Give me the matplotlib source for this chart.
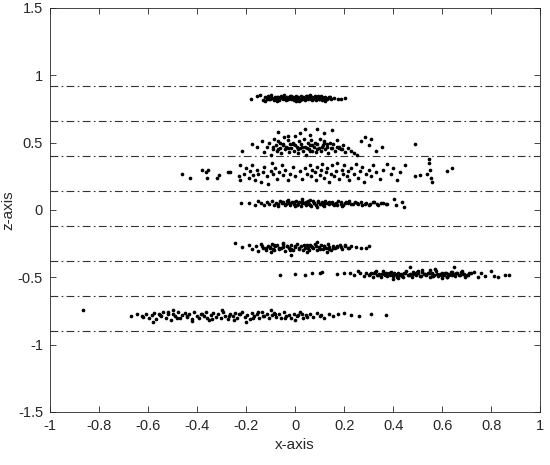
import matplotlib
matplotlib.use("Agg")
import matplotlib.pyplot as plt

plt.rcParams['font.family'] = ['Liberation Sans', 'DejaVu Sans']
plt.rcParams['axes.unicode_minus'] = False

# dash-dot separator levels
levels = [0.92, 0.66, 0.40, 0.14, -0.12, -0.38, -0.64, -0.90]

x_ticks = [-1, -0.8, -0.6, -0.4, -0.2, 0, 0.2, 0.4, 0.6, 0.8, 1]
x_tick_labels = ['-1', '-0.8', '-0.6', '-0.4', '-0.2', '0', '0.2', '0.4', '0.6', '0.8', '1']
y_ticks = [-1.5, -1, -0.5, 0, 0.5, 1, 1.5]
y_tick_labels = ['-1.5', '-1', '-0.5', '0', '0.5', '1', '1.5']

# band 1 (z ~ 0.83)
b1_x = [-0.18, -0.155, -0.142, -0.131, -0.124, -0.116, -0.109, -0.103, -0.095, -0.088,
        -0.083, -0.076, -0.069, -0.064, -0.057, -0.051, -0.046, -0.039, -0.033, -0.028,
        -0.021, -0.016, -0.010, -0.004, 0.002, 0.007, 0.013, 0.019, 0.024, 0.030,
        0.036, 0.041, 0.047, 0.052, 0.058, 0.064, 0.069, 0.075, 0.081, 0.086,
        0.092, 0.098, 0.104, 0.110, 0.117, 0.124, 0.131, 0.139, 0.147, 0.158,
        0.176, 0.188, 0.205, -0.098, -0.072,
        -0.045, -0.015, 0.016, 0.044, 0.071, 0.095, 0.121, -0.121, 0.062, 0.002,
        -0.113, -0.1, -0.087, -0.074, -0.061, -0.048, -0.035, -0.022, -0.009, 0.005,
        0.018, 0.031, 0.044, 0.057, 0.07, 0.083, 0.096, 0.109, 0.122, 0.135,
        -0.08, -0.054, -0.027, 0.0, 0.027, 0.054, 0.08, 0.107, -0.106, 0.142]
b1_y = [0.825, 0.845, 0.852, 0.818, 0.838, 0.826, 0.845, 0.822, 0.834, 0.816,
        0.842, 0.828, 0.836, 0.819, 0.847, 0.825, 0.833, 0.815, 0.840, 0.827,
        0.848, 0.821, 0.835, 0.817, 0.843, 0.829, 0.838, 0.818, 0.846, 0.824,
        0.832, 0.816, 0.844, 0.826, 0.837, 0.820, 0.841, 0.823, 0.834, 0.817,
        0.839, 0.825, 0.843, 0.819, 0.830, 0.836, 0.822, 0.840, 0.827, 0.831,
        0.826, 0.823, 0.829, 0.851, 0.811,
        0.851, 0.846, 0.812, 0.849, 0.813, 0.848, 0.811, 0.812, 0.850, 0.810,
        0.831, 0.838, 0.824, 0.840, 0.828, 0.836, 0.822, 0.841, 0.827, 0.834,
        0.823, 0.839, 0.829, 0.843, 0.825, 0.835, 0.821, 0.837, 0.828, 0.833,
        0.821, 0.842, 0.826, 0.838, 0.820, 0.831, 0.844, 0.826, 0.820, 0.838]

# band 2 (z ~ 0.48)
b2_x = [-0.215, -0.175, -0.155, -0.135, -0.125, -0.115, -0.105, -0.098, -0.092, -0.085,
        -0.078, -0.072, -0.068, -0.062, -0.057, -0.05, -0.046, -0.04, -0.035, -0.03,
        -0.025, -0.02, -0.015, -0.01, -0.004, 0.0, 0.006, 0.011, 0.016, 0.021,
        0.026, 0.031, 0.036, 0.041, 0.046, 0.051, 0.056, 0.061, 0.066, 0.071,
        0.076, 0.081, 0.086, 0.091, 0.096, 0.101, 0.106, 0.112, 0.118, 0.124,
        0.13, 0.136, 0.142, 0.148, 0.155, 0.162, 0.17, 0.178, 0.186, 0.195,
        0.205, 0.215, 0.228, 0.24, 0.252, 0.27, 0.285, 0.3, 0.31, 0.33,
        0.355, 0.49, -0.07, 0.02, 0.09, 0.15, 0.06, -0.03, 0.12, 0.04,
        -0.09, -0.07, -0.05, -0.03, -0.01, 0.01, 0.03, 0.05, 0.07, 0.09,
        0.11, 0.13, 0.15, 0.17, 0.19, -0.06, 0.0, 0.06, 0.12, 0.18]
b2_y = [0.44, 0.49, 0.47, 0.51, 0.43, 0.47, 0.5, 0.41, 0.45, 0.53,
        0.48, 0.44, 0.51, 0.46, 0.42, 0.49, 0.54, 0.45, 0.47, 0.52,
        0.43, 0.49, 0.46, 0.5, 0.44, 0.55, 0.47, 0.42, 0.51, 0.46,
        0.49, 0.44, 0.53, 0.47, 0.41, 0.5, 0.45, 0.48, 0.52, 0.44,
        0.47, 0.5, 0.43, 0.49, 0.46, 0.53, 0.44, 0.48, 0.51, 0.45,
        0.47, 0.42, 0.5, 0.46, 0.49, 0.44, 0.52, 0.47, 0.45, 0.48,
        0.43, 0.46, 0.44, 0.42, 0.41, 0.51, 0.54, 0.48, 0.53, 0.44,
        0.47, 0.49, 0.58, 0.57, 0.6, 0.59, 0.56, 0.55, 0.57, 0.6,
        0.47, 0.45, 0.48, 0.46, 0.49, 0.45, 0.47, 0.46, 0.48, 0.45,
        0.47, 0.49, 0.46, 0.47, 0.45, 0.5, 0.48, 0.44, 0.5, 0.46]

# band 3 (z ~ 0.28)
b3_x = [-0.46, -0.43, -0.38, -0.365, -0.355, -0.36, -0.32, -0.31, -0.275, -0.265,
        -0.225, -0.23, -0.225, -0.21, -0.2, -0.19, -0.185, -0.175, -0.17, -0.165,
        -0.155, -0.15, -0.14, -0.13, -0.125, -0.115, -0.11, -0.1, -0.095, -0.09,
        -0.08, -0.075, -0.065, -0.055, -0.05, -0.04, -0.03, -0.02, -0.01, 0.0,
        0.02, 0.03, 0.04, 0.05, 0.06, 0.065, 0.07, 0.08, 0.085, 0.09,
        0.1, 0.105, 0.11, 0.12, 0.125, 0.13, 0.14, 0.145, 0.15, 0.16,
        0.165, 0.17, 0.18, 0.19, 0.195, 0.2, 0.21, 0.215, 0.22, 0.23,
        0.24, 0.25, 0.255, 0.265, 0.275, 0.28, 0.29, 0.3, 0.31, 0.32,
        0.33, 0.345, 0.36, 0.375, 0.39, 0.4, 0.415, 0.43, 0.45, 0.49,
        0.51, 0.545, 0.545, 0.55, 0.54, 0.555, 0.56, 0.62, 0.64]
b3_y = [0.27, 0.24, 0.3, 0.28, 0.3, 0.24, 0.24, 0.26, 0.28, 0.285,
        0.33, 0.25, 0.22, 0.27, 0.31, 0.24, 0.29, 0.33, 0.26, 0.22,
        0.3, 0.27, 0.21, 0.28, 0.32, 0.25, 0.19, 0.29, 0.35, 0.27,
        0.31, 0.23, 0.28, 0.33, 0.26, 0.3, 0.22, 0.27, 0.32, 0.25,
        0.29, 0.23, 0.31, 0.27, 0.33, 0.25, 0.3, 0.28, 0.22, 0.32,
        0.26, 0.3, 0.34, 0.24, 0.28, 0.31, 0.21, 0.27, 0.33, 0.25,
        0.29, 0.35, 0.23, 0.3, 0.27, 0.33, 0.25, 0.29, 0.22, 0.31,
        0.27, 0.34, 0.24, 0.29, 0.32, 0.21, 0.27, 0.3, 0.25, 0.33,
        0.28, 0.23, 0.3, 0.34, 0.27, 0.31, 0.22, 0.28, 0.33, 0.25,
        0.26, 0.38, 0.35, 0.3, 0.27, 0.24, 0.21, 0.29, 0.31]

# band 4 (z ~ 0.05)
b4_x = [-0.22, -0.19, -0.165, -0.15, -0.14, -0.125, -0.115, -0.105, -0.095, -0.085,
        -0.078, -0.07, -0.062, -0.055, -0.048, -0.04, -0.033, -0.026, -0.019, -0.012,
        -0.005, 0.002, 0.009, 0.016, 0.023, 0.03, 0.037, 0.044, 0.051, 0.058,
        0.065, 0.072, 0.079, 0.086, 0.093, 0.1, 0.108, 0.116, 0.124, 0.132,
        0.14, 0.149, 0.158, 0.167, 0.176, 0.186, 0.196, 0.207, 0.218, 0.23,
        0.243, 0.257, 0.272, 0.288, 0.305, 0.322, 0.34, 0.358, 0.375, 0.405,
        0.41, 0.435, 0.445, 0.0, 0.06, 0.12, -0.03, 0.19, 0.09, 0.03,
        -0.07, -0.052, -0.036, -0.02, -0.004, 0.012, 0.028, 0.044, 0.06, 0.076,
        0.092, 0.108, 0.124, 0.14, 0.156, 0.172, 0.188, 0.204, 0.22, 0.236,
        0.252, 0.268, 0.284, 0.3, 0.318, 0.336, 0.352, 0.37, 0.045, 0.15]
b4_y = [0.05, 0.055, 0.04, 0.065, 0.05, 0.035, 0.06, 0.045, 0.07, 0.04,
        0.055, 0.03, 0.065, 0.048, 0.06, 0.038, 0.068, 0.05, 0.035, 0.062,
        0.045, 0.07, 0.04, 0.058, 0.033, 0.066, 0.05, 0.04, 0.063, 0.047,
        0.032, 0.07, 0.055, 0.038, 0.064, 0.045, 0.058, 0.035, 0.068, 0.05,
        0.042, 0.062, 0.034, 0.055, 0.067, 0.045, 0.038, 0.06, 0.05, 0.042,
        0.058, 0.046, 0.037, 0.052, 0.044, 0.056, 0.04, 0.05, 0.047, 0.08,
        0.035, 0.06, 0.02, 0.03, 0.075, 0.03, 0.075, 0.03, 0.025, 0.08,
        0.047, 0.058, 0.041, 0.052, 0.06, 0.044, 0.055, 0.062, 0.04, 0.051,
        0.057, 0.043, 0.053, 0.061, 0.046, 0.039, 0.056, 0.048, 0.063, 0.044,
        0.052, 0.059, 0.045, 0.037, 0.06, 0.047, 0.055, 0.043, 0.048, 0.052]

# band 5 (z ~ -0.28)
b5_x = [-0.245, -0.215, -0.19, -0.175, -0.16, -0.15, -0.14, -0.13, -0.12, -0.112,
        -0.104, -0.096, -0.088, -0.08, -0.072, -0.064, -0.056, -0.048, -0.04, -0.032,
        -0.024, -0.016, -0.008, 0.0, 0.008, 0.016, 0.024, 0.032, 0.04, 0.048,
        0.056, 0.064, 0.072, 0.08, 0.088, 0.096, 0.104, 0.112, 0.12, 0.128,
        0.136, 0.145, 0.154, 0.163, 0.172, 0.182, 0.192, 0.203, 0.215, 0.23,
        0.25, 0.268, 0.29, 0.3, -0.016, -0.1, 0.05, 0.13, -0.05, 0.09,
        -0.135, -0.118, -0.101, -0.084, -0.067, -0.05, -0.033, -0.016, 0.001, 0.018,
        0.035, 0.052, 0.069, 0.086, 0.103, 0.12, 0.137, 0.154, 0.171, 0.188,
        0.205, 0.222, -0.09, -0.02, 0.06, 0.14]
b5_y = [-0.245, -0.275, -0.26, -0.29, -0.27, -0.305, -0.255, -0.28, -0.295, -0.265,
        -0.285, -0.25, -0.3, -0.27, -0.26, -0.29, -0.28, -0.255, -0.305, -0.27,
        -0.285, -0.26, -0.295, -0.275, -0.25, -0.29, -0.265, -0.3, -0.28, -0.26,
        -0.295, -0.27, -0.285, -0.255, -0.3, -0.275, -0.26, -0.29, -0.27, -0.28,
        -0.255, -0.295, -0.265, -0.285, -0.275, -0.26, -0.29, -0.27, -0.28, -0.265,
        -0.275, -0.285, -0.28, -0.27, -0.335, -0.31, -0.315, -0.31, -0.245, -0.24,
        -0.268, -0.283, -0.272, -0.262, -0.286, -0.274, -0.266, -0.288, -0.27, -0.279,
        -0.263, -0.284, -0.276, -0.268, -0.287, -0.265, -0.278, -0.283, -0.267, -0.274,
        -0.262, -0.28, -0.292, -0.296, -0.262, -0.293]

# band 6 (z ~ -0.47)
b6_x = [-0.06, 0.0, 0.04, 0.07, 0.1, 0.11, 0.17, 0.2, 0.225, 0.24,
        0.255, 0.265, 0.28, 0.29, 0.3, 0.31, 0.318, 0.326, 0.334, 0.342,
        0.35, 0.358, 0.366, 0.374, 0.382, 0.39, 0.398, 0.406, 0.414, 0.422,
        0.43, 0.438, 0.446, 0.454, 0.462, 0.47, 0.478, 0.486, 0.494, 0.502,
        0.51, 0.518, 0.526, 0.534, 0.542, 0.55, 0.558, 0.566, 0.574, 0.582,
        0.59, 0.598, 0.606, 0.614, 0.622, 0.63, 0.638, 0.646, 0.654, 0.662,
        0.67, 0.678, 0.686, 0.694, 0.702, 0.71, 0.72, 0.73, 0.745, 0.76,
        0.775, 0.8, 0.81, 0.83, 0.855, 0.875, 0.65, 0.47, 0.57, 0.4,
        0.36, 0.44, 0.52, 0.6, 0.5, 0.55, 0.42, 0.62, 0.68, 0.33,
        0.305, 0.322, 0.338, 0.354, 0.37, 0.386, 0.402, 0.418, 0.434, 0.45,
        0.466, 0.482, 0.498, 0.514, 0.53, 0.546, 0.562, 0.578, 0.594, 0.61,
        0.626, 0.642, 0.658, 0.674, 0.69, 0.706, 0.48, 0.56, 0.64, 0.4]
b6_y = [-0.48, -0.475, -0.48, -0.47, -0.47, -0.46, -0.475, -0.47, -0.465, -0.48,
        -0.455, -0.47, -0.49, -0.465, -0.48, -0.47, -0.495, -0.46, -0.485, -0.475,
        -0.5, -0.465, -0.48, -0.49, -0.47, -0.46, -0.485, -0.475, -0.5, -0.465,
        -0.48, -0.49, -0.47, -0.455, -0.485, -0.475, -0.495, -0.465, -0.48, -0.47,
        -0.49, -0.46, -0.475, -0.485, -0.47, -0.5, -0.465, -0.48, -0.455, -0.49,
        -0.475, -0.465, -0.485, -0.47, -0.495, -0.48, -0.46, -0.475, -0.49, -0.47,
        -0.485, -0.46, -0.475, -0.495, -0.48, -0.465, -0.47, -0.46, -0.5, -0.47,
        -0.49, -0.45, -0.49, -0.5, -0.48, -0.485, -0.425, -0.42, -0.44, -0.51,
        -0.45, -0.5, -0.445, -0.505, -0.455, -0.445, -0.505, -0.5, -0.45, -0.455,
        -0.478, -0.468, -0.486, -0.474, -0.465, -0.483, -0.471, -0.489, -0.476, -0.466,
        -0.48, -0.472, -0.461, -0.487, -0.478, -0.468, -0.49, -0.473, -0.482, -0.465,
        -0.477, -0.486, -0.469, -0.48, -0.472, -0.484, -0.458, -0.492, -0.458, -0.492]

# band 7 (z ~ -0.78)
b7_x = [-0.865, -0.67, -0.645, -0.625, -0.61, -0.598, -0.585, -0.575, -0.566, -0.556,
        -0.546, -0.537, -0.528, -0.518, -0.508, -0.498, -0.489, -0.479, -0.47, -0.46,
        -0.45, -0.441, -0.432, -0.422, -0.412, -0.402, -0.392, -0.383, -0.373, -0.363,
        -0.353, -0.344, -0.334, -0.324, -0.314, -0.304, -0.294, -0.285, -0.275, -0.265,
        -0.255, -0.245, -0.235, -0.226, -0.216, -0.206, -0.196, -0.186, -0.176, -0.166,
        -0.156, -0.146, -0.136, -0.126, -0.116, -0.106, -0.096, -0.086, -0.076, -0.066,
        -0.056, -0.046, -0.036, -0.026, -0.015, -0.004, 0.008, 0.02, 0.032, 0.045,
        0.06, 0.075, 0.09, 0.105, 0.12, 0.14, 0.155, 0.175, 0.2, 0.23,
        0.26, 0.31, 0.37, -0.58, -0.5, -0.42, -0.3, -0.2, -0.1, 0.0,
        -0.62, -0.55, -0.48, -0.44, -0.38, -0.34, -0.27, -0.23, -0.17, -0.13,
        -0.08, -0.04, 0.01, 0.05, 0.1, -0.52, -0.36, -0.25, -0.15, 0.03]
b7_y = [-0.745, -0.785, -0.775, -0.79, -0.77, -0.8, -0.78, -0.765, -0.81, -0.775,
        -0.79, -0.76, -0.8, -0.775, -0.82, -0.77, -0.79, -0.755, -0.805, -0.78,
        -0.765, -0.795, -0.775, -0.81, -0.76, -0.785, -0.8, -0.77, -0.79, -0.76,
        -0.815, -0.78, -0.765, -0.795, -0.775, -0.8, -0.76, -0.785, -0.81, -0.77,
        -0.79, -0.765, -0.8, -0.775, -0.755, -0.795, -0.78, -0.81, -0.765, -0.79,
        -0.775, -0.8, -0.76, -0.785, -0.77, -0.805, -0.78, -0.765, -0.795, -0.775,
        -0.8, -0.76, -0.79, -0.78, -0.805, -0.77, -0.79, -0.76, -0.8, -0.78,
        -0.77, -0.795, -0.765, -0.78, -0.8, -0.775, -0.79, -0.77, -0.765, -0.78,
        -0.785, -0.77, -0.78, -0.83, -0.74, -0.825, -0.745, -0.83, -0.745, -0.815,
        -0.795, -0.78, -0.8, -0.79, -0.775, -0.81, -0.79, -0.77, -0.8, -0.785,
        -0.775, -0.805, -0.78, -0.795, -0.79, -0.755, -0.8, -0.815, -0.76, -0.77]

bands = [(b1_x, b1_y), (b2_x, b2_y), (b3_x, b3_y), (b4_x, b4_y),
         (b5_x, b5_y), (b6_x, b6_y), (b7_x, b7_y)]

axis_col = '#262626'

fig = plt.figure(figsize=(5.5, 4.65), dpi=100)
ax = fig.add_axes([0.091, 0.114, 0.891, 0.869])

for lv in levels:
    ax.axhline(lv, color='#333333', lw=0.8, ls=(0, (7, 3, 1.5, 3)), zorder=1)

for bx, by in bands:
    ax.scatter(bx, by, s=7, c='k', linewidths=0, zorder=2)

ax.set_xlim(-1, 1)
ax.set_ylim(-1.5, 1.5)
ax.set_xticks(x_ticks)
ax.set_xticklabels(x_tick_labels)
ax.set_yticks(y_ticks)
ax.set_yticklabels(y_tick_labels)
ax.tick_params(direction='in', top=True, right=True, length=4, width=0.6,
               colors=axis_col, labelsize=10.5, pad=5)
for sp in ax.spines.values():
    sp.set_color(axis_col)
    sp.set_linewidth(0.6)

ax.set_xlabel('x-axis', fontsize=11, color=axis_col, labelpad=4)
ax.set_ylabel('z-axis', fontsize=11, color=axis_col, labelpad=2)

fig.savefig('out.png', dpi=100)
